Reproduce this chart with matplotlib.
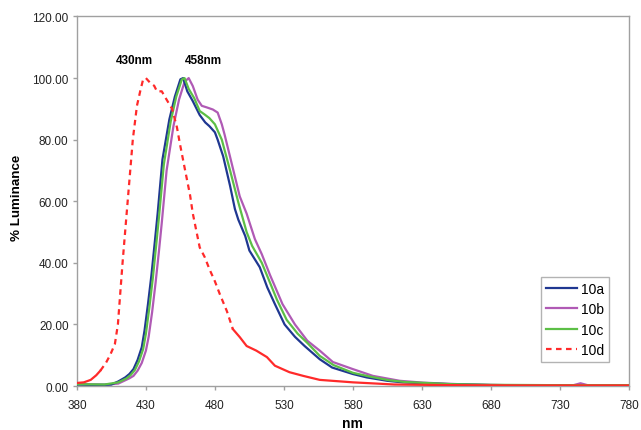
import matplotlib
matplotlib.use("Agg")
import matplotlib.pyplot as plt
from matplotlib.lines import Line2D
from matplotlib.ticker import FormatStrFormatter

plt.rcParams['font.family'] = ['Liberation Sans', 'DejaVu Sans']

# Emission spectra (wavelength in nm, normalised luminance in %)
x_10a = [380, 390, 400, 405, 410, 415, 418, 421, 424, 427, 429, 431.5, 434, 436.5, 438.5,
         442, 447, 451, 455, 457, 460, 464, 469, 473, 476, 480, 482, 486, 491, 494.5, 497,
         502, 505, 512.5, 518, 523.5, 530.5, 538, 545, 556, 565, 580, 590, 605, 616, 631,
         650, 680, 720, 780]
y_10a = [0.5, 0.4, 0.4, 0.5, 1.5, 2.8, 3.9, 5.5, 8.5, 12.6, 18, 26.6, 36, 47, 56,
         73.6, 86.6, 94, 99.6, 100, 95.7, 92.5, 88, 85.6, 84.4, 82.4, 80, 74.6, 65, 57.5, 54,
         48.7, 44, 38.6, 32, 26.6, 20, 16, 13, 8.7, 6, 3.9, 2.8, 1.7, 1.2, 0.9,
         0.6, 0.3, 0.2, 0.2]

x_10b = [380, 400, 410, 418, 421, 424, 427, 430, 432, 434.5, 437, 439.5, 441.5, 445, 450,
         454, 458, 461, 464, 467.5, 470.5, 474, 478.5, 482, 485, 487, 492, 498, 503, 509,
         514, 520, 529, 538, 547, 556, 565.5, 580, 594.5, 614, 631, 657, 690, 740, 745,
         750, 780]
y_10b = [0.6, 0.4, 0.8, 2.5, 3.3, 5, 7.5, 11.5, 16, 24, 33.5, 44, 53, 70, 84.5,
         93, 98.8, 100, 97.4, 93, 91, 90.5, 89.8, 88.8, 85, 81.7, 72.6, 61.6, 56, 47.7,
         42.8, 36, 26.6, 20, 14.7, 11.5, 7.8, 5.5, 3.3, 1.7, 1.1, 0.6, 0.3, 0.3, 0.9,
         0.3, 0.3]

x_10c = [380, 400, 410, 416, 419, 422, 425, 428, 430, 432.5, 435, 437.5, 439.5, 443, 448,
         452, 456, 458, 461, 465, 469, 472.5, 476, 480, 485, 491, 497, 503, 507, 514, 520,
         525, 532, 540, 547, 556, 566, 580, 592, 606, 618, 633, 652, 680, 720, 780]
y_10c = [0.6, 0.5, 1.2, 2.5, 3.6, 5.2, 8, 12, 17, 25.5, 35, 46, 55, 72, 86,
         94, 99.5, 100, 96.5, 93.5, 89.3, 88.2, 87, 85, 80, 70, 59.6, 50, 45.5, 40, 33.5,
         28, 21.5, 17, 14, 9.8, 6.8, 4.3, 3.1, 1.9, 1.3, 1, 0.6, 0.4, 0.3, 0.3]

x_10d = [380, 385, 390, 394, 397, 401, 404, 407.5, 409.7, 413, 416, 420.5, 423.5, 426, 428,
         430, 433, 436, 438, 441.5, 445, 449, 452.5, 454.5, 458, 462, 464, 469, 472.7, 476,
         480, 483.6, 488.7, 493, 498, 503, 510, 517.7, 523.5, 534, 544, 556, 580, 610, 650,
         700, 780]
y_10d = [1.0, 1.2, 2, 3.5, 5, 7.5, 10, 13.6, 20, 39.6, 55.8, 80, 91, 96, 99.6,
         100, 98.5, 97.5, 95.7, 95.7, 93, 90, 84, 79, 71, 62, 56, 45, 41.8, 38,
         34, 29.8, 24.3, 18.5, 15.9, 13, 11.5, 9.4, 6.6, 4.5, 3.3, 2, 1.2, 0.5, 0.3,
         0.2, 0.2]

x_ticks = [380, 430, 480, 530, 580, 630, 680, 730, 780]
y_ticks = [0, 20, 40, 60, 80, 100, 120]

peak_labels = ["430nm", "458nm"]

c_a, c_b, c_c, c_d = "#1f3791", "#b05ab5", "#5cbf46", "#ff2a2a"

fig = plt.figure(figsize=(6.41, 4.31), dpi=100)
ax = fig.add_axes([0.120, 0.102, 0.861, 0.8574])

lw = 1.6
ax.plot(x_10a, y_10a, color=c_a, lw=lw, zorder=3)
ax.plot(x_10b, y_10b, color=c_b, lw=lw, zorder=2)
ax.plot(x_10c, y_10c, color=c_c, lw=lw, zorder=4)

# 10d: dashed through the steep band, solid where the trace runs flat
i0 = x_10d.index(397)
i1 = x_10d.index(493)
ax.plot(x_10d[:i0 + 1], y_10d[:i0 + 1], color=c_d, lw=lw, zorder=5)
ax.plot(x_10d[i0:i1 + 1], y_10d[i0:i1 + 1], color=c_d, lw=lw,
        dashes=(2.5, 2.0), zorder=5)
ax.plot(x_10d[i1:], y_10d[i1:], color=c_d, lw=lw, zorder=5)

ax.set_xlim(380, 780)
ax.set_ylim(0, 120)
ax.set_xticks(x_ticks)
ax.set_yticks(y_ticks)
ax.yaxis.set_major_formatter(FormatStrFormatter('%.2f'))

for s in ax.spines.values():
    s.set_color("#a0a0a0")
    s.set_linewidth(1.0)
ax.tick_params(axis='both', direction='out', length=3, width=1,
               color="#a0a0a0", labelsize=8.5, labelcolor="#222222")
ax.tick_params(axis='x', pad=6)
ax.tick_params(axis='y', pad=3)

ax.set_xlabel("nm", fontsize=10, fontweight='bold', labelpad=4)
ax.set_ylabel("% Luminance", fontsize=9.6, fontweight='bold')
ax.yaxis.set_label_coords(-0.097, 0.513)

ax.text(421.7, 106, peak_labels[0], fontsize=8.5, fontweight='bold',
        ha='center', va='center')
ax.text(471.7, 106, peak_labels[1], fontsize=8.5, fontweight='bold',
        ha='center', va='center')

handles = [Line2D([], [], color=c_a, lw=lw),
           Line2D([], [], color=c_b, lw=lw),
           Line2D([], [], color=c_c, lw=lw),
           Line2D([], [], color=c_d, lw=lw, dashes=(2.5, 2.0))]
leg = ax.legend(handles, ["10a", "10b", "10c", "10d"], loc='lower right',
                bbox_to_anchor=(0.964, 0.066), fontsize=10, frameon=True,
                fancybox=False, edgecolor="#a0a0a0", handlelength=2.2,
                handletextpad=0.3, labelspacing=0.45, borderpad=0.35,
                borderaxespad=0.0)
leg.get_frame().set_linewidth(1.0)

fig.savefig("out.png", dpi=100)
